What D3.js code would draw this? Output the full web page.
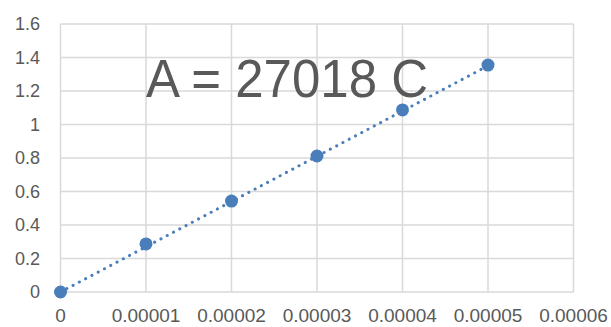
<!DOCTYPE html>
<html><head><meta charset="utf-8">
<script src="https://cdn.jsdelivr.net/npm/d3@7"></script>
<style>body{margin:0;background:#fff}</style>
</head><body>
<svg id="c" width="611" height="327"></svg>
<script>
const xValues = [0, 0.00001, 0.00002, 0.00003, 0.00004, 0.00005];
const yValues = [0, 0.287, 0.543, 0.812, 1.087, 1.355];
const xTicks = [0, 0.00001, 0.00002, 0.00003, 0.00004, 0.00005, 0.00006];
const xTickLabels = ["0","0.00001","0.00002","0.00003","0.00004","0.00005","0.00006"];
const yTicks = [0, 0.2, 0.4, 0.6, 0.8, 1, 1.2, 1.4, 1.6];
const yTickLabels = ["0","0.2","0.4","0.6","0.8","1","1.2","1.4","1.6"];
const slope = 27018;
const annotation = "A = 27018 C";

const svg = d3.select("#c");
const x = d3.scaleLinear().domain([0, 0.00006]).range([60.5, 573.5]);
const y = d3.scaleLinear().domain([0, 1.6]).range([292, 24]);
const font = "'Liberation Sans', Arial, sans-serif";
const grid = "#d9d9d9", txt = "#595959", blue = "#4a7ebb";

// grid
svg.append("g").selectAll("line").data(yTicks).join("line")
  .attr("x1", x(0)).attr("x2", x(0.00006))
  .attr("y1", d => y(d)).attr("y2", d => y(d))
  .attr("stroke", grid).attr("stroke-width", 1.5);
svg.append("g").selectAll("line").data(xTicks).join("line")
  .attr("y1", y(0)).attr("y2", y(1.6))
  .attr("x1", d => x(d)).attr("x2", d => x(d))
  .attr("stroke", grid).attr("stroke-width", 1.5);

// y labels
svg.append("g").selectAll("text").data(yTicks).join("text")
  .attr("x", 40).attr("y", d => y(d)).attr("dy", "0.36em")
  .attr("text-anchor", "end").attr("fill", txt)
  .style("font-family", font).style("font-size", "18px")
  .text((d, i) => yTickLabels[i]);
// x labels
svg.append("g").selectAll("text").data(xTicks).join("text")
  .attr("x", d => x(d)).attr("y", 322)
  .attr("text-anchor", "middle").attr("fill", txt)
  .style("font-family", font).style("font-size", "19px")
  .text((d, i) => xTickLabels[i]);

// annotation
svg.append("text").attr("x", 146).attr("y", 97)
  .attr("fill", txt).style("font-family", font).style("font-size", "53px")
  .attr("textLength", 282).attr("lengthAdjust", "spacingAndGlyphs")
  .text(annotation);

// trendline
const x0 = xValues[0], x1 = xValues[xValues.length - 1];
svg.append("line")
  .attr("x1", x(x0)).attr("y1", y(slope * x0))
  .attr("x2", x(x1)).attr("y2", y(slope * x1))
  .attr("stroke", blue).attr("stroke-width", 3)
  .attr("stroke-linecap", "round").attr("stroke-dasharray", "0.1 7");

// points
svg.append("g").selectAll("circle").data(xValues).join("circle")
  .attr("cx", d => x(d)).attr("cy", (d, i) => y(yValues[i]))
  .attr("r", 6.5).attr("fill", blue);
</script>
</body></html>
